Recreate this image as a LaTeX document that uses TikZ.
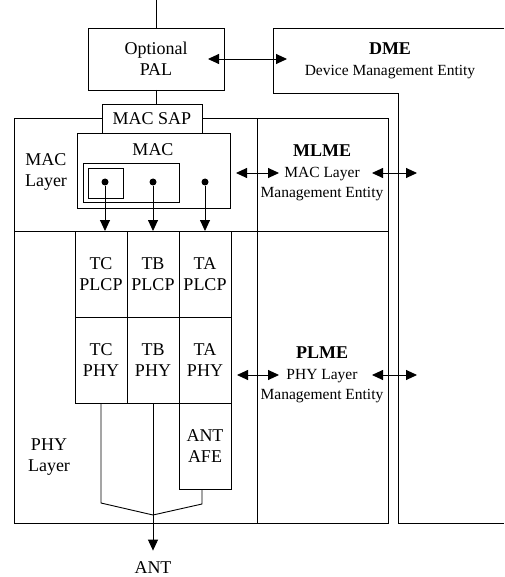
\documentclass[tikz,border=0pt]{standalone}
\usepackage{fontspec}
\setmainfont{Liberation Serif}
\usetikzlibrary{arrows.meta, positioning}
\newcommand{\bigtxt}{\fontsize{18}{21}\selectfont}
\newcommand{\smalltxt}{\fontsize{15.5}{20.5}\selectfont}
\tikzset{
    block/.style={rectangle, draw=black, inner sep=0pt, outer sep=0pt, align=center, font=\bigtxt},
    plain/.style={inner sep=0pt, align=center, font=\bigtxt},
    mgmt/.style={inner sep=0pt, align=center, font=\smalltxt},
    dot/.style={circle, fill=black, inner sep=0pt, minimum size=7pt},
    arrow/.style={-{Triangle[length=11pt,width=10pt]}},
    biarrow/.style={{Triangle[length=11pt,width=10pt]}-{Triangle[length=11pt,width=10pt]}}
}

\begin{document}
\begin{tikzpicture}[x=1pt, y=-1pt, line width=0.9pt]
    \useasboundingbox (0,0) rectangle (504,577);

    % layer frames
    \node (maclayer) [block, minimum width=243pt, minimum height=113pt] at (135.5,174.5) {};
    \node (phylayer) [block, minimum width=243pt, minimum height=292pt] at (135.5,377) {};
    \node (mlme) [block, minimum width=131pt, minimum height=113pt] at (322.5,174.5) {};
    \node (plme) [block, minimum width=131pt, minimum height=292pt] at (322.5,377) {};

    % DME outline
    \coordinate (dmetl) at (273,28);
    \coordinate (dmecorner) at (398,93);
    \draw (504,28) -- (dmetl) |- (dmecorner) -- (398,523) -- (504,523);
    \node (dme) [mgmt] at (390,61) {{\bigtxt\bfseries DME}\\Device Management Entity};

    % PAL and SAP
    \coordinate (feed) at (156,0);
    \node (pal) [block, minimum width=136pt, minimum height=62pt] at (156,59) {Optional\\PAL};
    \node (macsap) [block, fill=white, minimum width=100pt, minimum height=29pt] at (152,118.5) {MAC SAP};
    \draw (feed) -- (pal.north);
    \draw (pal.south) -- (pal.south |- macsap.north);

    % MAC
    \node (mac) [block, minimum width=153pt, minimum height=75pt] at (153.5,170.5) {};
    \node (mactxt) [plain] at (153,150) {MAC};
    \node (macbuf) [block, minimum width=96pt, minimum height=39pt] at (131,182.5) {};
    \node (macsub) [block, minimum width=35pt, minimum height=30pt] at (105.5,183) {};
    \node (d1) [dot] at (105,182) {};
    \node (d2) [dot] at (153,182) {};
    \node (d3) [dot] at (205,182) {};

    \node (maclabel) [plain] at (46,172) {MAC\\Layer};
    \node (phylabel) [plain] at (49,457) {PHY\\Layer};
    \node (mlmetxt) [mgmt] at (322,173) {{\bigtxt\bfseries MLME}\\MAC Layer\\Management Entity};
    \node (plmetxt) [mgmt] at (322,375) {{\bigtxt\bfseries PLME}\\PHY Layer\\Management Entity};

    % PHY columns
    \node (tcplcp) [block, minimum width=52pt, minimum height=86pt] at (101,274) {TC\\PLCP};
    \node (tbplcp) [block, minimum width=52pt, minimum height=86pt, right=0pt of tcplcp] {TB\\PLCP};
    \node (taplcp) [block, minimum width=52pt, minimum height=86pt, right=0pt of tbplcp] {TA\\PLCP};
    \node (tcphy) [block, minimum width=52pt, minimum height=86pt, below=0pt of tcplcp] {TC\\PHY};
    \node (tbphy) [block, minimum width=52pt, minimum height=86pt, below=0pt of tbplcp] {TB\\PHY};
    \node (taphy) [block, minimum width=52pt, minimum height=86pt, below=0pt of taplcp] {TA\\PHY};
    \node (afe) [block, minimum width=52pt, minimum height=86pt, below=0pt of taphy] {ANT\\AFE};
    \node (ant) [plain] at (153,568) {ANT};

    \draw [arrow] (d1) -- (d1 |- tcplcp.north);
    \draw [arrow] (d2) -- (d2 |- tbplcp.north);
    \draw [arrow] (d3) -- (d3 |- taplcp.north);

    % antenna combining
    \coordinate (kneel) at (101,503);
    \coordinate (kneer) at (202,504);
    \coordinate (join) at (153,515);
    \draw (tcphy.south) -- (kneel) -- (join);
    \draw (afe.south -| kneer) -- (kneer) -- (join);
    \draw [arrow, shorten >=11pt] (tbphy.south) -- (ant.north);

    % management links
    \draw [biarrow] ([xshift=-16pt]pal.east) -- ([xshift=14pt]pal.east -| dmetl);
    \draw [biarrow] ([xshift=6pt]mac.east |- mlmetxt) -- ([xshift=22pt]mlme.west |- mlmetxt);
    \draw [biarrow] ([xshift=-16pt]mlme.east |- mlmetxt) -- ([xshift=19pt]dmecorner |- mlmetxt);
    \draw [biarrow] ([xshift=6pt]taphy.east |- plmetxt) -- ([xshift=22pt]plme.west |- plmetxt);
    \draw [biarrow] ([xshift=-16pt]plme.east |- plmetxt) -- ([xshift=19pt]dmecorner |- plmetxt);
\end{tikzpicture}
\end{document}
